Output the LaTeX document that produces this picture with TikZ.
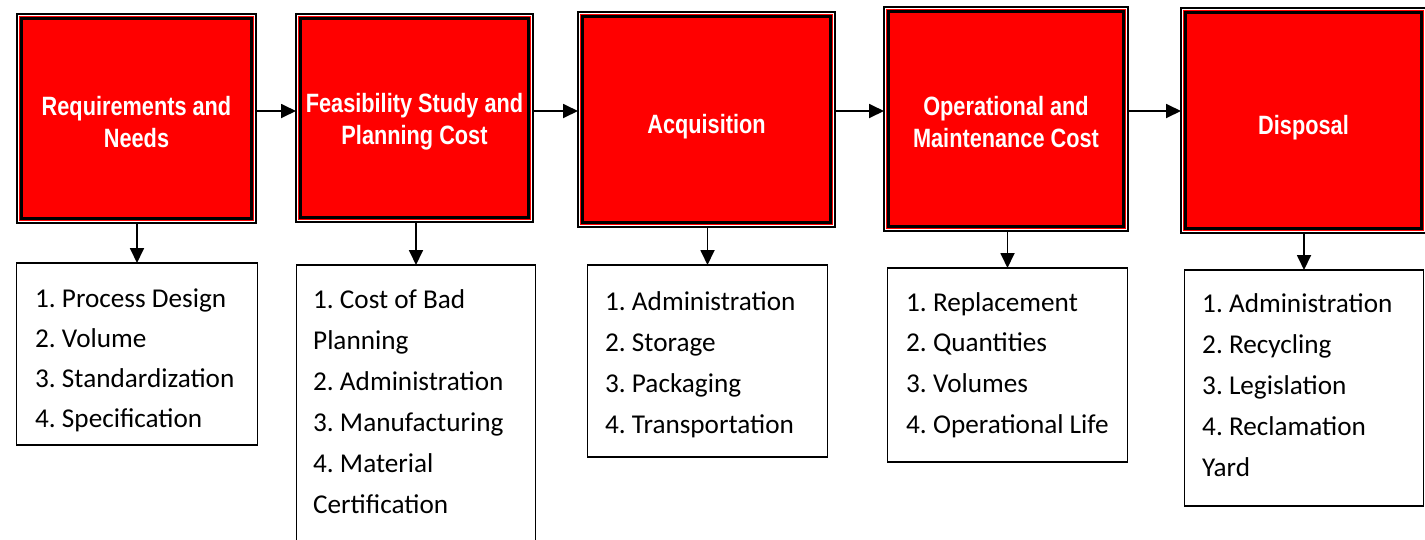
\documentclass[tikz,border=0pt]{standalone}
\usepackage{fontspec}
\setmainfont{Carlito}
\newfontfamily\tfont[FakeStretch=0.82]{Liberation Sans}
\usetikzlibrary{arrows.meta,fit,backgrounds}
\definecolor{boxred}{RGB}{255,0,0}
\frenchspacing
\tikzset{
  stagebox/.style={rectangle, draw=black, line width=3.2pt, fill=boxred, outer sep=0pt, inner sep=0pt},
  stageouter/.style={rectangle, draw=black, line width=2pt, fill=white, inner sep=4.5pt, outer sep=0pt},
  stageband/.style={rectangle, fill=boxred, inner sep=2.6pt, outer sep=0pt},
  stagetitle/.style={text=white, align=center, font=\tfont\bfseries\fontsize{26.5}{32}\selectfont, inner sep=0pt},
  listbox/.style={rectangle, draw=black, line width=1.5pt, outer sep=0pt, inner sep=0pt},
  listtext/.style={anchor=base west, inner sep=0pt, font=\fontsize{27.2}{41}\selectfont},
  flowarrow/.style={line width=1.8pt, -{Triangle[length=15pt,width=14pt]}},
}
\newcommand{\itemlines}[2]{\vtop{\baselineskip=#1pt\lineskiplimit=-100pt #2}}
\begin{document}
\begin{tikzpicture}[x=1pt,y=-1pt]
\useasboundingbox (0,0) rectangle (1425,539);
\clip (0,0) rectangle (1425,539);
% stage boxes (inner thick frames)
\node[stagebox, minimum width=230pt, minimum height=200pt] (b1) at (136.5,118.5) {};
\node[stagebox, minimum width=228pt, minimum height=199pt] (b2) at (414.5,118) {};
\node[stagebox, minimum width=248pt, minimum height=206pt] (b3) at (706.5,119.5) {};
\node[stagebox, minimum width=235pt, minimum height=215pt] (b4) at (1006,119) {};
\node[stagebox, minimum width=236pt, minimum height=216pt] (b5) at (1303.5,120.5) {};
\begin{scope}[on background layer]
  \foreach \i in {1,...,5} {
    \node[stageouter, fit=(b\i)] (b\i o) {};
    \node[stageband, fit=(b\i)] (b\i r) {};
  }
\end{scope}
% titles
\node[stagetitle] (b1t) at (136.5,122) {Requirements and\\Needs};
\node[stagetitle] (b2t) at (414.5,122) {Feasibility Study and\\Planning Cost};
\node[stagetitle] (b3t) at (706.5,127) {Acquisition};
\node[stagetitle] (b4t) at (1006,122) {Operational and\\Maintenance Cost};
\node[stagetitle] (b5t) at (1303.5,128) {Disposal};
% list boxes
\node[listbox, minimum width=241pt, minimum height=182pt] (t1) at (137,354) {};
\node[listbox, minimum width=239pt, minimum height=295pt] (t2) at (416,412.5) {};
\node[listbox, minimum width=240pt, minimum height=192pt] (t3) at (707.5,361) {};
\node[listbox, minimum width=240pt, minimum height=194pt] (t4) at (1007.5,365) {};
\node[listbox, minimum width=239pt, minimum height=236pt] (t5) at (1304,388) {};
% list texts
\node[listtext] (l1) at (35,307) {\itemlines{40}{\hbox{1. Process Design}\hbox{2. Volume}\hbox{3. Standardization}\hbox{4. Specification}}};
\node[listtext] (l2) at (313,308) {\itemlines{41}{\hbox{1. Cost of Bad}\hbox{Planning}\hbox{2. Administration}\hbox{3. Manufacturing}\hbox{4. Material}\hbox{Certification}}};
\node[listtext] (l3) at (605,310) {\itemlines{41}{\hbox{1. Administration}\hbox{2. Storage}\hbox{3. Packaging}\hbox{4. Transportation}}};
\node[listtext] (l4) at (906,311) {\itemlines{40.7}{\hbox{1. Replacement}\hbox{2. Quantities}\hbox{3. Volumes}\hbox{4. Operational Life}}};
\node[listtext] (l5) at (1202,312) {\itemlines{41.2}{\hbox{1. Administration}\hbox{2. Recycling}\hbox{3. Legislation}\hbox{4. Reclamation}\hbox{Yard}}};
% horizontal connectors
\draw[flowarrow] (b1o.east |- 0,111) -- (b2o.west |- 0,111);
\draw[flowarrow] (b2o.east |- 0,111) -- (b3o.west |- 0,111);
\draw[flowarrow] (b3o.east |- 0,111) -- (b4o.west |- 0,111);
\draw[flowarrow] (b4o.east |- 0,111) -- (b5o.west |- 0,111);
% vertical connectors
\foreach \i in {1,...,5} {
  \draw[flowarrow] (b\i o.south -| t\i.north) -- (t\i.north);
}
\end{tikzpicture}
\end{document}
